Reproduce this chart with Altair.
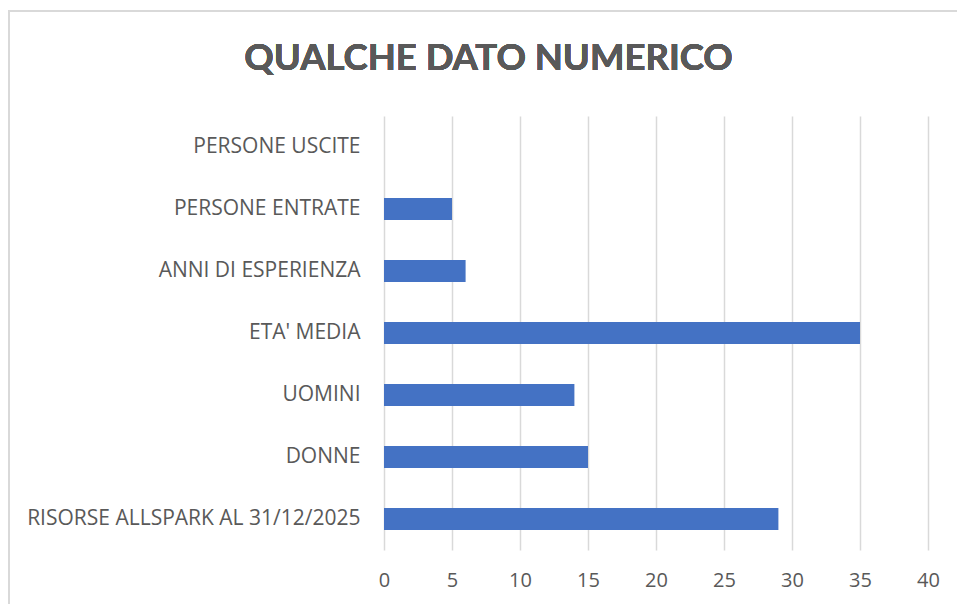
import altair as alt
import pandas as pd

categorie = ["PERSONE USCITE", "PERSONE ENTRATE", "ANNI DI ESPERIENZA", "ETA' MEDIA",
             "UOMINI", "DONNE", "RISORSE ALLSPARK AL 31/12/2025"]
valori = [0, 5, 6, 35, 14, 15, 29]
tick_x = [0, 5, 10, 15, 20, 25, 30, 35, 40]
titolo = "QUALCHE DATO NUMERICO"

df = pd.DataFrame({"categoria": categorie, "valore": valori})

FONT = "Open Sans"
TFONT = "Lato"
GRAY = "#595959"

bars = alt.Chart(df).mark_bar(color="#4472C4").encode(
    x=alt.X("valore:Q", scale=alt.Scale(domain=[0, 40], nice=False),
            axis=alt.Axis(values=tick_x, title=None, domain=False, ticks=False,
                          grid=True, gridColor="#D9D9D9", gridWidth=1.5,
                          labelFont=FONT, labelFontSize=20, labelColor=GRAY,
                          labelPadding=20, labelFlush=False)),
    y=alt.Y("categoria:N", sort=categorie,
            scale=alt.Scale(paddingInner=0.645, paddingOuter=0.3225),
            axis=alt.Axis(title=None, domain=False, ticks=False, grid=False,
                          labelFont=FONT, labelFontSize=21, labelColor=GRAY,
                          labelPadding=24, labelLimit=400)),
)

border = alt.Chart(df).mark_rect(fill=None, stroke="#D9D9D9", strokeWidth=1.5).encode(
    x=alt.value(-375), x2=alt.value(600), y=alt.value(-105), y2=alt.value(520)
)

title_txt = alt.Chart(df).mark_text(
    text=titolo, font=TFONT, fontSize=36.5, fontWeight="bold", color=GRAY,
    align="center", baseline="alphabetic"
).encode(x=alt.value(104.5), y=alt.value(-46))

chart = alt.layer(border, bars, title_txt).properties(
    width=544, height=434,
    autosize=alt.AutoSizeParams(type="none"),
    padding={"left": 384, "top": 116, "right": 29, "bottom": 54},
    background="white",
).configure_view(stroke=None)

chart.save("out.html", embed_options={"renderer": "svg", "actions": False})
